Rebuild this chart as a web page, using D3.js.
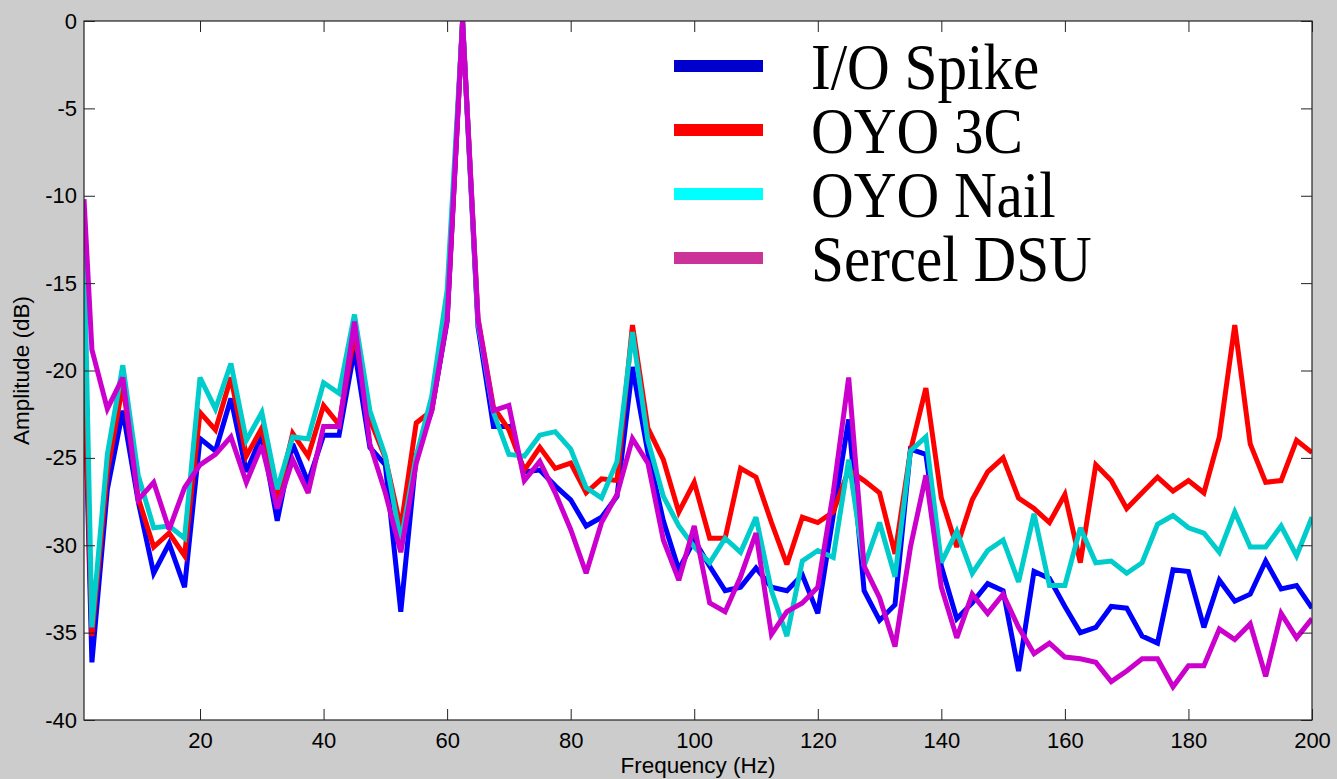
<!DOCTYPE html>
<html>
<head>
<meta charset="utf-8">
<script src="https://cdnjs.cloudflare.com/ajax/libs/d3/7.8.5/d3.min.js"></script>
<style>
  body { margin: 0; background: #cccccc; }
  svg { display: block; }
</style>
</head>
<body>
<script>
// frequency bins (Hz); first entry sits on the left edge of the axes
var freqs = [1.22, 2.5, 5, 7.5, 10, 12.5, 15, 17.5, 20, 22.5, 25, 27.5, 30, 32.5, 35, 37.5, 40,
  42.5, 45, 47.5, 50, 52.5, 55, 57.5, 60, 62.5, 65, 67.5, 70, 72.5, 75, 77.5, 80, 82.5, 85,
  87.5, 90, 92.5, 95, 97.5, 100, 102.5, 105, 107.5, 110, 112.5, 115, 117.5, 120, 122.5, 125,
  127.5, 130, 132.5, 135, 137.5, 140, 142.5, 145, 147.5, 150, 152.5, 155, 157.5, 160, 162.5,
  165, 167.5, 170, 172.5, 175, 177.5, 180, 182.5, 185, 187.5, 190, 192.5, 195, 197.5, 200];

var ioSpike = [-19.4, -36.7, -26.8, -22.3, -27.5, -31.6, -29.9, -32.4, -23.9, -24.6, -21.6,
  -25.8, -23.7, -28.6, -24.2, -26.4, -23.7, -23.7, -18.8, -24.4, -25.4, -33.8, -24.9, -22.3,
  -17.2, 0, -17.5, -23.2, -23.2, -25.8, -25.7, -26.6, -27.4, -28.9, -28.4, -27.2, -19.8, -24.7,
  -28.6, -31.4, -29.7, -31.2, -32.6, -32.4, -31.3, -32.4, -32.6, -31.7, -33.9, -28.3, -22.8,
  -32.6, -34.3, -33.4, -24.5, -24.8, -31.2, -34.2, -33.3, -32.2, -32.6, -37.2, -31.5, -31.9,
  -33.5, -35.0, -34.7, -33.5, -33.6, -35.2, -35.6, -31.4, -31.5, -34.7, -32.0, -33.2, -32.8,
  -30.9, -32.5, -32.3, -33.6];

var oyo3C = [-19.0, -35.2, -25.8, -20.8, -27.3, -30.1, -29.3, -30.6, -22.4, -23.4, -20.4,
  -24.9, -23.3, -27.4, -23.6, -24.9, -22.0, -23.1, -17.9, -22.8, -25.0, -29.0, -23.0, -22.3,
  -17.0, 0, -17.0, -22.1, -23.4, -25.7, -24.4, -25.6, -25.3, -27.0, -26.2, -26.3, -17.4, -23.3,
  -25.1, -28.1, -26.4, -29.6, -29.6, -25.6, -26.1, -28.7, -31.1, -28.4, -28.7, -28.1, -25.7,
  -26.3, -27.0, -30.5, -24.6, -21.0, -27.3, -30.1, -27.4, -25.8, -25.0, -27.3, -27.9, -28.7,
  -27.1, -31.0, -25.4, -26.3, -27.9, -27.0, -26.1, -26.9, -26.3, -27.0, -23.8, -17.4, -24.2,
  -26.4, -26.3, -24.0, -24.7];

var oyoNail = [-12.5, -34.7, -24.8, -19.7, -26.0, -29.0, -28.9, -29.6, -20.4, -22.2, -19.6,
  -24.0, -22.4, -26.8, -23.8, -23.9, -20.7, -21.3, -16.8, -22.3, -24.9, -29.8, -24.9, -21.5,
  -15.4, 0, -17.3, -22.4, -24.8, -24.9, -23.7, -23.5, -24.5, -26.7, -27.3, -25.2, -17.8, -24.0,
  -27.2, -28.9, -30.1, -31.0, -29.6, -30.4, -28.4, -32.6, -35.2, -30.9, -30.3, -30.7, -25.1,
  -31.2, -28.7, -31.8, -24.6, -23.8, -31.0, -29.2, -31.6, -30.3, -29.7, -32.1, -28.2, -32.3,
  -32.3, -29.0, -31.0, -30.9, -31.6, -31.0, -28.8, -28.3, -29.0, -29.3, -30.4, -28.1, -30.1,
  -30.1, -28.9, -30.6, -28.4];

var sercelDSU = [-10.2, -18.8, -22.2, -20.4, -27.4, -26.4, -29.1, -26.7, -25.4, -24.8, -23.8,
  -26.4, -24.3, -27.9, -25.1, -27.0, -23.2, -23.2, -17.2, -24.2, -27.0, -30.4, -25.3, -22.3,
  -17.1, 0, -17.1, -22.3, -22.0, -26.3, -25.2, -27.0, -29.1, -31.6, -28.7, -27.1, -23.9, -25.3,
  -29.7, -32.0, -28.9, -33.3, -33.8, -31.8, -29.3, -35.1, -33.8, -33.3, -32.4, -27.0, -20.4,
  -31.2, -33.0, -35.8, -30.1, -26.0, -32.4, -35.3, -32.8, -33.9, -32.8, -34.7, -36.2, -35.6,
  -36.4, -36.5, -36.7, -37.8, -37.2, -36.5, -36.5, -38.1, -36.9, -36.9, -34.8, -35.4, -34.5,
  -37.5, -33.9, -35.3, -34.2];

var seriesNames = ["I/O Spike", "OYO 3C", "OYO Nail", "Sercel DSU"];
var lineColors = ["#0000ff", "#ff0000", "#00cccc", "#cc00cc"];
var legendColors = ["#0000cc", "#ff0000", "#00ffff", "#cc3399"];
var xTicks = [20, 40, 60, 80, 100, 120, 140, 160, 180, 200];
var yTicks = [-40, -35, -30, -25, -20, -15, -10, -5, 0];

var allSeries = [ioSpike, oyo3C, oyoNail, sercelDSU];

var W = 1337, H = 779;
var pLeft = 84, pRight = 1312, pTop = 21, pBottom = 720;

var svg = d3.select("body").append("svg")
  .attr("width", W)
  .attr("height", H);

var x = d3.scaleLinear().domain([1.22, 200]).range([pLeft, pRight]);
var y = d3.scaleLinear().domain([-40, 0]).range([pBottom, pTop]);

// plot area
svg.append("rect")
  .attr("x", pLeft).attr("y", pTop)
  .attr("width", pRight - pLeft).attr("height", pBottom - pTop)
  .attr("fill", "#ffffff");

svg.append("clipPath").attr("id", "clip")
  .append("rect")
  .attr("x", pLeft).attr("y", pTop)
  .attr("width", pRight - pLeft).attr("height", pBottom - pTop);

var line = d3.line()
  .x(function(d, i) { return x(freqs[i]); })
  .y(function(d) { return y(d); });

svg.append("g").attr("clip-path", "url(#clip)")
  .selectAll("path")
  .data(allSeries)
  .enter().append("path")
  .attr("d", line)
  .attr("fill", "none")
  .attr("stroke", function(d, i) { return lineColors[i]; })
  .attr("stroke-width", 5)
  .attr("stroke-linejoin", "miter")
  .attr("stroke-miterlimit", 3);

// axes: ticks inside, mirrored on top / right
var tickLen = 11;
var axFont = "'Liberation Sans', Arial, sans-serif";
var plain = function(d) { return String(d); }; // ascii hyphen, like the original

svg.append("g")
  .attr("transform", "translate(0," + pBottom + ")")
  .call(d3.axisBottom(x).tickValues(xTicks).tickFormat(plain).tickSizeInner(-tickLen).tickSizeOuter(0).tickPadding(12))
  .call(function(g) {
    g.select(".domain").remove();
    g.selectAll("text").attr("font-family", axFont).attr("font-size", 22).attr("fill", "#000");
    g.selectAll("line").attr("stroke", "#222");
  });

svg.append("g")
  .attr("transform", "translate(" + pLeft + ",0)")
  .call(d3.axisLeft(y).tickValues(yTicks).tickFormat(plain).tickSizeInner(-tickLen).tickSizeOuter(0).tickPadding(7))
  .call(function(g) {
    g.select(".domain").remove();
    g.selectAll("text").attr("font-family", axFont).attr("font-size", 22).attr("fill", "#000");
    g.selectAll("line").attr("stroke", "#222");
  });

svg.append("g")
  .attr("transform", "translate(0," + pTop + ")")
  .call(d3.axisTop(x).tickValues(xTicks).tickSizeInner(-tickLen).tickSizeOuter(0).tickFormat(""))
  .call(function(g) {
    g.select(".domain").remove();
    g.selectAll("line").attr("stroke", "#222");
  });

svg.append("g")
  .attr("transform", "translate(" + pRight + ",0)")
  .call(d3.axisRight(y).tickValues(yTicks).tickSizeInner(-tickLen).tickSizeOuter(0).tickFormat(""))
  .call(function(g) {
    g.select(".domain").remove();
    g.selectAll("line").attr("stroke", "#222");
  });

// box
svg.append("rect")
  .attr("x", pLeft).attr("y", pTop)
  .attr("width", pRight - pLeft).attr("height", pBottom - pTop)
  .attr("fill", "none")
  .attr("stroke", "#222")
  .attr("stroke-width", 1.2);

// axis labels
svg.append("text")
  .attr("x", (pLeft + pRight) / 2)
  .attr("y", 773)
  .attr("text-anchor", "middle")
  .attr("font-family", axFont)
  .attr("font-size", 22.5)
  .text("Frequency (Hz)");

svg.append("text")
  .attr("transform", "translate(29," + ((pTop + pBottom) / 2) + ") rotate(-90)")
  .attr("text-anchor", "middle")
  .attr("font-family", axFont)
  .attr("font-size", 22.5)
  .text("Amplitude (dB)");

// legend
var legend = svg.append("g");
var rowY = d3.scaleLinear().domain([0, 3]).range([66, 258]);

legend.selectAll("line")
  .data(seriesNames)
  .enter().append("line")
  .attr("x1", 674).attr("x2", 763)
  .attr("y1", function(d, i) { return rowY(i); })
  .attr("y2", function(d, i) { return rowY(i); })
  .attr("stroke", function(d, i) { return legendColors[i]; })
  .attr("stroke-width", 12);

legend.selectAll("text")
  .data(seriesNames)
  .enter().append("text")
  .attr("transform", function(d, i) { return "translate(811," + (rowY(i) + 23) + ") scale(0.91,1)"; })
  .attr("font-family", "'Liberation Serif', 'Times New Roman', serif")
  .attr("font-size", 65)
  .attr("fill", "#000")
  .text(function(d) { return d; });
</script>
</body>
</html>
